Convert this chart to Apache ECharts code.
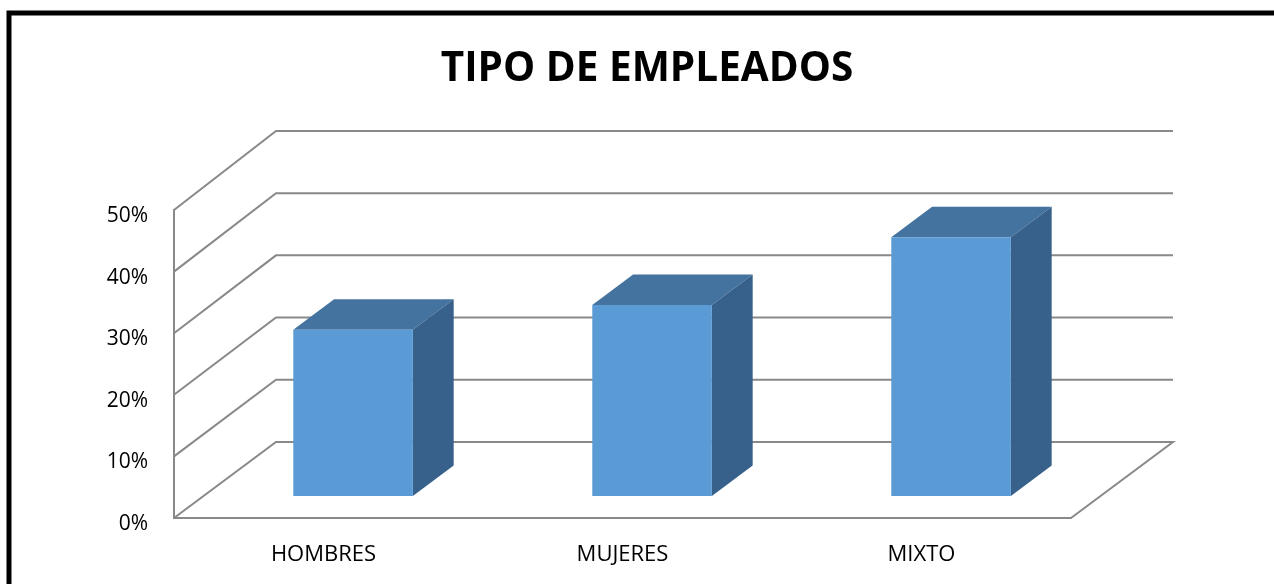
<!DOCTYPE html>
<html>
<head>
<meta charset="utf-8">
<title>Tipo de empleados</title>
<script src="https://cdn.jsdelivr.net/npm/echarts@6/dist/echarts.min.js"></script>
<style>
  html, body { margin: 0; padding: 0; background: #fff; }
  #chart { width: 1274px; height: 584px; }
</style>
</head>
<body>
<div id="chart"></div>
<script>
// datos del grafico
var categorias = ["HOMBRES", "MUJERES", "MIXTO"];
var porcentajes = [0.27, 0.31, 0.42];
var marcasEje = [0, 0.1, 0.2, 0.3, 0.4, 0.5];

// "3d" falso: desplazamiento del fondo en pixeles
var FONDO_X = 102, FONDO_Y = 76, FONDO_ESCALA = 1.01;
var BARRA_Z = 0.29, BARRA_PROF = 0.4, BARRA_ANCHO = 0.4;
var GRIS = "#898989";
var FUENTE = "Open Sans";

function pintarParedes(params, api) {
  var cs = params.coordSys;
  var v = api.value(1);
  var y = api.coord([0, v])[1];
  var y0 = api.coord([0, 0])[1];
  // pared del fondo un poco mas alta (perspectiva)
  var yf = y0 - FONDO_Y - (y0 - y) * FONDO_ESCALA;
  var izq = cs.x, der = cs.x + cs.width;
  var pts = [[izq, y], [izq + FONDO_X, yf], [der + FONDO_X, yf]];
  if (v === 0) pts.push([der, y]); // borde derecho del piso
  return {
    type: "polyline",
    shape: { points: pts },
    style: { stroke: GRIS, lineWidth: 2, fill: null }
  };
}

function pintarBarra(params, api) {
  var base = api.coord([api.value(0), 0]);
  var cima = api.coord([api.value(0), api.value(1)]);
  var banda = api.size([1, 0])[0];
  var w = banda * BARRA_ANCHO;
  var x0 = base[0] + FONDO_X * BARRA_Z - w / 2, x1 = x0 + w;
  var yb = base[1] - FONDO_Y * BARRA_Z, yt = cima[1] - FONDO_Y * BARRA_Z;
  var dx = FONDO_X * BARRA_PROF, dy = FONDO_Y * BARRA_PROF;
  return {
    type: "group",
    children: [
      { type: "polygon", shape: { points: [[x0, yt], [x1, yt], [x1 + dx, yt - dy], [x0 + dx, yt - dy]] }, style: { fill: "#44739f" } },
      { type: "polygon", shape: { points: [[x1, yt], [x1 + dx, yt - dy], [x1 + dx, yb - dy], [x1, yb]] }, style: { fill: "#37618a" } },
      { type: "rect", shape: { x: x0, y: yt, width: w, height: yb - yt }, style: { fill: "#5b9bd5" } }
    ]
  };
}

var myChart = echarts.init(document.getElementById("chart"));
var option = {
  animation: false,
  backgroundColor: "#fff",
  title: {
    text: "TIPO DE EMPLEADOS",
    left: 642,
    top: 44,
    textAlign: "center",
    textStyle: { fontSize: 40.5, fontWeight: "bold", fontFamily: FUENTE, color: "#000" }
  },
  graphic: [
    {
      type: "rect",
      shape: { x: 9, y: 13, width: 1300, height: 620 },
      style: { fill: "none", stroke: "#000", lineWidth: 5 }
    }
  ],
  grid: { left: 174, right: 203, top: 210, bottom: 66 },
  xAxis: {
    type: "category",
    data: categorias,
    axisLine: { lineStyle: { color: GRIS, width: 2 } },
    axisTick: { show: false },
    axisLabel: { margin: 26, fontSize: 22, fontFamily: FUENTE, color: "#000" }
  },
  yAxis: {
    type: "value",
    min: 0,
    max: 0.5,
    interval: 0.1,
    axisLine: { show: true, lineStyle: { color: GRIS, width: 2 } },
    axisTick: { show: false },
    splitLine: { show: false },
    axisLabel: {
      margin: 26,
      fontSize: 21,
      fontFamily: FUENTE,
      color: "#000",
      verticalAlign: "top",
      lineHeight: 12,
      formatter: function (v) { return Math.round(v * 100) + "%"; }
    }
  },
  series: [
    {
      name: "paredes",
      type: "custom",
      renderItem: pintarParedes,
      data: marcasEje.map(function (v) { return [0, v]; }),
      encode: { x: 0, y: 1 },
      z: 1,
      silent: true
    },
    {
      name: "Tipo de empleados",
      type: "custom",
      renderItem: pintarBarra,
      data: porcentajes.map(function (v, i) { return [i, v]; }),
      encode: { x: 0, y: 1 },
      z: 3
    }
  ]
};
myChart.setOption(option);
</script>
</body>
</html>
